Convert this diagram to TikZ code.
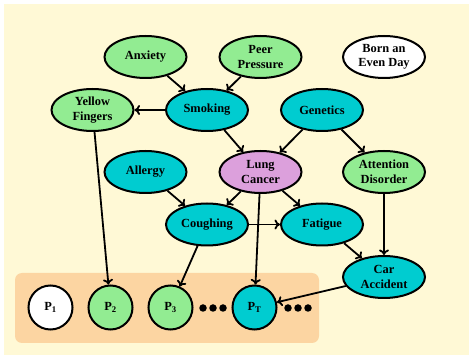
\documentclass[tikz,border=0pt]{standalone}
\usepackage{fontspec}
\setmainfont{Liberation Serif}
\usetikzlibrary{shapes.geometric,arrows.meta}
\definecolor{paper}{HTML}{FFF9D6}
\definecolor{band}{HTML}{FCD5A2}
\definecolor{gnode}{HTML}{92EC92}
\definecolor{cnode}{HTML}{00CCD0}
\definecolor{pnode}{HTML}{DCA0DC}
\tikzset{
  var/.style={ellipse, draw=black, line width=2pt, minimum width=82pt, minimum height=42pt,
    inner sep=0pt, align=center, font=\fontsize{12.4}{14.5}\selectfont\bfseries},
  gvar/.style={var, fill=gnode},
  cvar/.style={var, fill=cnode},
  pvar/.style={var, fill=pnode},
  wvar/.style={var, fill=white},
  pt/.style={circle, draw=black, line width=2pt, minimum size=44pt, inner sep=0pt,
    font=\fontsize{12.4}{14.5}\selectfont\bfseries},
  dot/.style={circle, fill=black, minimum size=7.5pt, inner sep=0pt},
  link/.style={line width=1.8pt, -{Computer Modern Rightarrow[length=5.5pt,width=10pt]}},
}
\begin{document}
\begin{tikzpicture}[x=1pt,y=-1pt]
  \useasboundingbox (0,0) rectangle (469,355);
  \fill[paper] (4,4) rectangle (469,355);
  \fill[band, rounded corners=7pt] (15,273) rectangle (319,343);

  \node[gvar] (anx) at (145.5,57) {Anxiety};
  \node[gvar] (peer) at (260.5,57) {Peer\\Pressure};
  \node[wvar] (born) at (384,57) {Born an\\Even Day};
  \node[gvar] (yf) at (92.5,110) {Yellow\\Fingers};
  \node[cvar] (smk) at (207,110) {Smoking};
  \node[cvar] (gen) at (322,110) {Genetics};
  \node[cvar] (all) at (145.5,172) {Allergy};
  \node[pvar] (lc) at (260.5,172) {Lung\\Cancer};
  \node[gvar] (att) at (384,172) {Attention\\Disorder};
  \node[cvar] (cou) at (207,224.5) {Coughing};
  \node[cvar] (fat) at (322,224.5) {Fatigue};
  \node[cvar] (car) at (384,277) {Car\\Accident};

  \node[pt, fill=white] (p1) at (50.5,307.5) {P\textsubscript{1}};
  \node[pt, fill=gnode] (p2) at (110.5,307.5) {P\textsubscript{2}};
  \node[pt, fill=gnode] (p3) at (170.5,307.5) {P\textsubscript{3}};
  \node[pt, fill=cnode] (pT) at (254.5,307.5) {P\textsubscript{T}};
  \node[dot] (d1) at (203,308) {};
  \node[dot] (d2) at (213,308) {};
  \node[dot] (d3) at (223,308) {};
  \node[dot] (d4) at (288,308) {};
  \node[dot] (d5) at (298,308) {};
  \node[dot] (d6) at (308,308) {};

  \draw[link] (anx) -- (smk);
  \draw[link] (peer) -- (smk);
  \draw[link] (smk) -- (yf);
  \draw[link] (smk) -- (lc);
  \draw[link] (gen) -- (lc);
  \draw[link] (gen) -- (att);
  \draw[link] (all) -- (cou);
  \draw[link] (lc) -- (cou);
  \draw[link] (lc) -- (fat);
  \draw[link] (cou) -- (fat);
  \draw[link] (fat) -- (car);
  \draw[link] (att) -- (car);
  \draw[link] (yf) -- (p2);
  \draw[link] (cou) -- (p3);
  \draw[link] (lc) -- (pT);
  \draw[link] (car) -- (pT);
\end{tikzpicture}
\end{document}
